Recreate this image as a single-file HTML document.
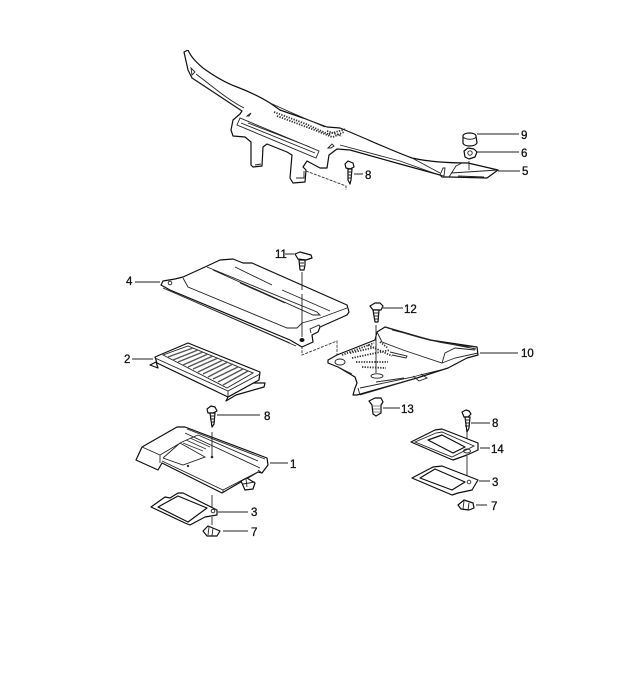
<!DOCTYPE html>
<html><head><meta charset="utf-8"><style>
html,body{margin:0;padding:0;background:#fff}
svg{display:block}
text{font-family:"Liberation Sans",sans-serif;font-size:11.5px;fill:#111;stroke:#111;stroke-width:.3}
.o{fill:#fff;stroke:#111;stroke-width:1.2;stroke-linejoin:round}
.l{fill:none;stroke:#222;stroke-width:.9}
.m{fill:none;stroke:#222;stroke-width:.9}
.t{fill:none;stroke:#666;stroke-width:.8}
.d{fill:none;stroke:#333;stroke-width:.9;stroke-dasharray:3 1.2}
.dots{fill:none;stroke:#333;stroke-width:1.8;stroke-dasharray:1.3 1.3}
</style></head><body>
<svg width="639" height="682" viewBox="0 0 639 682" xmlns="http://www.w3.org/2000/svg">
<defs><filter id="b" x="0" y="0" width="100%" height="100%"><feGaussianBlur stdDeviation="0.35"/></filter></defs>
<rect width="639" height="682" fill="#fff"/>
<g filter="url(#b)">
<!-- 5: cowl panel -->
<path class="o" d="M184 52L188 50C191 57 196 62 203 68C214 76 226 83 237 87C250 92 262 98 270 103L280 110L303 118L327 127L340 128C365 138 390 150 412 158C425 161 445 163 468 163L498 170L487 178L450 177L442 177L440 175L400 164L350 150L337 149L329 155L327 168L320 168L307 161L303 167L306 170L305 182L293 183L290 178L292 155L287 152L267 144L263 147L262 166L253 167L251 165L251 142L245 137L233 136L231 130L233 120L240 114L242 111L192 78L188 70Z"/>
<path class="l" d="M191 68L195 72L192 75ZM192 78C208 88 225 100 242 111M196 74C212 86 228 100 244 108"/>
<path class="l" d="M237 125L316 158L319 151L240 118ZM241 123L315 153M248 123L310 147"/>
<path class="l" d="M247 116l4-3-2 3zM328 148l4-4 2 2-3 2z"/>
<path class="l" d="M340 145L400 161L442 176M270 103L290 112L325 127M412 158L440 173"/>
<path class="l" d="M255 165l6-1M296 178l8 0 0-7"/>
<path class="dots" d="M274 112L306 124L330 135M277 116L312 129L332 137"/>
<path class="dots" d="M327 131L342 136M329 134L346 129M333 137L344 132"/>
<path class="l" d="M440 175l3-7 2 0-1 8zM449 177L456 166L462 163M451 173L498 170M458 176L484 177"/>
<path class="l" d="M469 161V170"/>
<path class="d" d="M306 171L346 186V190"/>
<!-- 9 -->
<path class="o" d="M463 136C463 132 476 132 476 136L477 143C475 147 464 147 463 143Z"/>
<path class="l" d="M463 137C466 140 474 140 476 137"/>
<!-- 6 -->
<path class="o" d="M464 151L468 148L474 149L477 152L475 157L469 159L465 157Z"/>
<circle class="l" cx="470" cy="153" r="2.2"/>
<!-- top screw 8 -->
<path class="o" d="M345 164L348 161L353 163L354 167L350 169L346 168Z"/>
<path class="o" d="M348 169H352L351 180L350 184L348 180Z"/>
<path class="l" d="M348 172h4M348 175h4M348 178h3"/>

<!-- 4 tray -->
<path class="o" d="M161 285L163 281L175 279L183 277L205 267L220 260L233 259L243 263L252 263L347 305L349 312L347 315L320 327L318 332L312 335L313 342L302 347L290 340L170 290Z"/>
<path class="l" d="M183 278L188 287L287 328L297 328L302 323L320 318L347 308M163 288L290 343M170 291L296 346"/>
<path class="l" d="M207 267L317 312L320 315L313 315L213 270M235 267L272 285M282 290L330 311M240 283L285 303"/>
<path class="l" d="M311 333L310 329L319 325L320 327"/>
<circle class="l" cx="170" cy="283" r="1.8"/><ellipse cx="302" cy="340" rx="2.5" ry="2" fill="#111"/>
<!-- 11 -->
<path class="o" d="M295 254L300 252L311 255L312 258L306 260L298 259Z"/>
<path class="o" d="M299 260H305V265L304 270H300Z"/>
<path class="l" d="M300 263h4M300 266h4"/>
<path class="m" d="M302 272V290M302 294V337"/>
<path class="d" d="M302 346V355L337 341V363"/>

<!-- 2 filter -->
<path class="o" d="M150 365L156 362L158 368Z"/>
<path class="o" d="M228 397L253 383L265 383L264 387L236 395L226 401Z"/>
<path class="o" d="M155 357L188 343L260 372L259 380L228 397L157 363Z"/>
<path class="l" d="M163 355L188 346L253 373L227 388ZM155 358L228 391L260 374M228 391V397"/>
<path fill="none" stroke="#555" stroke-width="1.4" d="M168 357L193 348M173 360L198 350M178 362L203 352M183 365L208 354M188 367L213 356M193 369L218 358M198 372L223 360M203 374L228 362M208 377L233 364M213 379L238 367M218 382L243 369M223 385L248 371"/>

<!-- 10 -->
<path class="o" d="M328 360L337 355L375 340L377 332L385 327L430 340L477 347L478 355L467 358L448 368L417 378L357 395L353 395L355 388L357 383L355 377L338 367L328 363Z"/>
<path class="l" d="M377 332L382 342L403 350L442 363L445 353L455 348L475 350M385 327C410 335 440 345 477 347M392 330L440 342L476 349M442 363L455 358L478 353"/>
<path class="l" d="M360 388L413 377L420 375L445 369M360 395L358 388M360 395L417 378M413 376L419 381L427 378L421 374"/>
<path class="l" d="M338 367L352 374M376 382L404 378M390 352L407 356L406 358L392 355"/>
<ellipse class="l" cx="377" cy="376" rx="6" ry="2.2"/><ellipse class="l" cx="340" cy="362" rx="5" ry="3"/>
<path class="dots" d="M342 355L374 343M352 358L390 350M350 353L376 347M356 362L388 362M362 367L386 368M368 345L392 356M380 342L388 348"/>
<!-- 12 -->
<path class="o" d="M370 306L375 303L380 303L383 306L381 310L373 310Z"/>
<path class="o" d="M373 310H379L378 322H375Z"/>
<path class="l" d="M373 313h6M374 316h5M374 319h4"/>
<path class="m" d="M376 325V373"/>
<!-- 13 -->
<path class="o" d="M369 401L375 398L381 398L383 402L381 405L381 413L376 416L373 414L372 405Z"/>
<path class="t" d="M373 406h8M373 409h8M373 412h8"/>

<!-- 1 -->
<path class="o" d="M136 460L142 447L177 427L185 427L267 458L268 465L262 473L258 472L227 490L222 493L162 463L158 470Z"/>
<path class="l" d="M142 447L160 455V463M160 455L182 442L198 435M163 458L183 465L205 457L180 443L163 458M185 433L260 468M198 435L258 461M187 429L265 459"/>
<path class="l" d="M162 461L223 490L258 472M223 490V493M258 470L262 473"/>
<path fill="none" stroke="#333" stroke-width=".9" d="M183 443L203 451M186 440L206 449M190 438L210 447"/>
<circle cx="188" cy="466" r="1.2" fill="#333"/><circle cx="212" cy="457" r="1.3" fill="#333"/>
<path class="o" d="M241 481L247 478L255 483L253 489L245 490Z"/>
<path class="l" d="M243 484L255 482M246 479L247 487"/>
<!-- bolt 8 left -->
<path class="o" d="M207 409L211 406L215 407L217 411L213 413L208 413Z"/>
<path class="o" d="M210 413H215L214 424L212 427Z"/>
<path class="l" d="M210 416h5M210 419h5M211 422h4"/>
<path class="m" d="M212 432V458M212 495V507M212 517V525"/>
<!-- gasket 3 left -->
<path fill="#fff" fill-rule="evenodd" stroke="#111" stroke-width="1.2" stroke-linejoin="round" d="M151 507L165 497L170 498L178 493L183 493L217 510L217 515L205 517L190 525L185 523ZM158 507L188 522L207 508L178 496Z"/>
<circle cx="213" cy="511" r="1.8" fill="none" stroke="#333"/>
<!-- 7 left -->
<path class="o" d="M203 531L208 526L220 531L217 536L207 536Z"/>
<path class="l" d="M209 527L208 535M213 528L212 536"/>

<!-- bolt 8 right -->
<path class="o" d="M462 412L466 410L469 411L471 414L468 417L464 417Z"/>
<path class="o" d="M465 417H470L469 428L467 432Z"/>
<path class="l" d="M465 420h5M465 423h5M465 426h4"/>
<path class="m" d="M467 432V450M467 456V478"/>
<!-- 14 -->
<path fill="#fff" fill-rule="evenodd" stroke="#111" stroke-width="1.2" stroke-linejoin="round" d="M411 442L435 430L442 429L478 443L478 450L467 455L453 460L448 458ZM428 440L453 453L465 447L442 435Z"/>
<path class="l" d="M415 442L436 433L442 432L474 446L452 457Z"/>
<ellipse class="l" cx="467" cy="451" rx="3.5" ry="2"/>
<!-- 3 right -->
<path fill="#fff" fill-rule="evenodd" stroke="#111" stroke-width="1.2" stroke-linejoin="round" d="M412 478L433 467L442 466L478 480L472 490L458 493L452 495ZM420 478L452 490L465 482L435 469Z"/>
<circle cx="469" cy="482" r="1.8" fill="none" stroke="#444"/>
<!-- 7 right -->
<path class="o" d="M458 505L464 500L473 503L474 508L469 510L461 509Z"/>
<path class="l" d="M464 501L463 509M469 503L468 510"/>

<!-- leaders -->
<path class="l" d="M477 134H519M476 152H519M498 171H520M354 174H363M285 254H294M135 282H160M132 359H153M480 353H518M383 308H403M383 408H400M217 415H260M471 423H490M480 448H490M479 481H490M476 505H487M270 463H288M218 512H248M223 531H248"/>

<!-- labels -->
<text x="521" y="139">9</text>
<text x="521" y="157">6</text>
<text x="522" y="175">5</text>
<text x="365" y="179">8</text>
<text x="275" y="258">11</text>
<text x="126" y="285">4</text>
<text x="124" y="363">2</text>
<text x="404" y="313">12</text>
<text x="521" y="357">10</text>
<text x="401" y="413">13</text>
<text x="264" y="420">8</text>
<text x="492" y="427">8</text>
<text x="491" y="453">14</text>
<text x="492" y="486">3</text>
<text x="491" y="510">7</text>
<text x="290" y="468">1</text>
<text x="251" y="516">3</text>
<text x="251" y="536">7</text>
</g>
</svg>
</body></html>
